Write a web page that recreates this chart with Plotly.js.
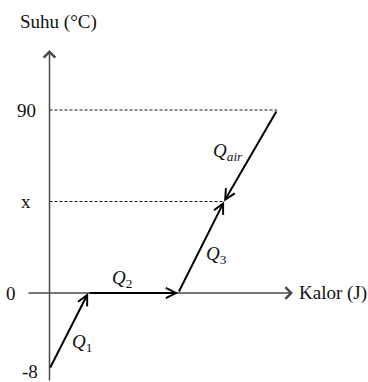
<!DOCTYPE html>
<html><head><meta charset="utf-8">
<script src="https://cdn.plot.ly/plotly-3.0.1.min.js"></script>
<style>html,body{margin:0;padding:0;background:#fff;overflow:hidden}#chart{width:368px;height:382px}</style>
</head><body><div id="chart"></div>
<script>
// ---- data (schematic values) ----
const suhuLabels = ['-8', '0', 'x', '90'];          // temperature tick labels
const suhuLevels = [-0.83, 0, 1, 2];                  // schematic level of each temperature
const kalorPoints = [0, 0.86, 2.86, 3.88, 5.06];      // cumulative heat at stage boundaries (schematic)
const stageNames = ['<i>Q</i><sub>1</sub>', '<i>Q</i><sub>2</sub>', '<i>Q</i><sub>3</sub>', '<i>Q</i><sub><i>air</i></sub>'];

// ---- layout helpers ----
const W = 368, H = 382;
const x0px = 49.5, kx = 45;      // pixel of heat 0, px per heat unit
const y0px = 293, ky = 91.5;     // pixel of level 0, px per level unit
const xRange = [(0 - x0px) / kx, (W - x0px) / kx];
const yRange = [(y0px - H) / ky, (y0px - 0) / ky];
const lvl = name => suhuLevels[suhuLabels.indexOf(name)];

const FONT = 'Liberation Serif, Times New Roman, serif';
const ink = '#111';
const axisCol = '#4a4a4a';

// stage segments: [from, to]
const segs = [
  [[kalorPoints[0], lvl('-8')], [kalorPoints[1], lvl('0')]],
  [[kalorPoints[1], lvl('0')], [kalorPoints[2], lvl('0')]],
  [[kalorPoints[2], lvl('0')], [kalorPoints[3], lvl('x')]],
  [[kalorPoints[4], lvl('90')], [kalorPoints[3], lvl('x')]]
];
const labelShift = [[13, -12], [-11, 14], [15, -8], [-23, 4]];

const traces = [
  { x: [0, kalorPoints[4]], y: [lvl('90'), lvl('90')], mode: 'lines',
    line: { color: ink, width: 1, dash: '3px,2px' }, hoverinfo: 'skip' },
  { x: [0, kalorPoints[3]], y: [lvl('x'), lvl('x')], mode: 'lines',
    line: { color: ink, width: 1, dash: '3px,2px' }, hoverinfo: 'skip' }
];

const ann = [];
// axes as arrows
ann.push({ x: 0, y: (y0px - 50) / ky, ax: 0, ay: yRange[0], xref: 'x', yref: 'y', axref: 'x', ayref: 'y',
  text: '', showarrow: true, arrowhead: 4, arrowsize: 1.5, arrowwidth: 1.5, arrowcolor: axisCol });
ann.push({ x: (293 - x0px) / kx, y: 0, ax: (27 - x0px) / kx, ay: 0, xref: 'x', yref: 'y', axref: 'x', ayref: 'y',
  text: '', showarrow: true, arrowhead: 4, arrowsize: 1.5, arrowwidth: 1.5, arrowcolor: axisCol });
// stage arrows
segs.forEach((s, i) => {
  ann.push({ x: s[1][0], y: s[1][1], ax: s[0][0], ay: s[0][1], xref: 'x', yref: 'y', axref: 'x', ayref: 'y',
    text: '', showarrow: true, arrowhead: 5, arrowsize: 1.0, arrowwidth: 2, arrowcolor: '#000' });
  ann.push({ x: (s[0][0] + s[1][0]) / 2, y: (s[0][1] + s[1][1]) / 2, xref: 'x', yref: 'y',
    xshift: labelShift[i][0], yshift: labelShift[i][1], text: stageNames[i], showarrow: false,
    font: { family: FONT, size: 19, color: ink } });
});
// tick labels
const tickRight = { '-8': 40, '0': 18, 'x': 33, '90': 38 };
const tickDy = { '-8': -3, '0': 0, 'x': 0, '90': 0 };
suhuLabels.forEach((t, i) => {
  ann.push({ x: 0, y: suhuLevels[i], xref: 'x', yref: 'y', xanchor: 'right', yanchor: 'middle',
    xshift: tickRight[t] - x0px, yshift: tickDy[t], text: t, showarrow: false,
    font: { family: FONT, size: 19, color: ink } });
});
// axis titles
ann.push({ x: 18 / W, y: 1 - 22 / H, xref: 'paper', yref: 'paper', xanchor: 'left', yanchor: 'middle',
  text: 'Suhu (°C)', showarrow: false, font: { family: FONT, size: 19, color: ink } });
ann.push({ x: 297 / W, y: 0, xref: 'paper', yref: 'y', xanchor: 'left', yanchor: 'middle',
  text: 'Kalor (J)', showarrow: false, font: { family: FONT, size: 19, color: ink } });

const layout = {
  width: W, height: H, margin: { l: 0, r: 0, t: 0, b: 0 },
  paper_bgcolor: '#fff', plot_bgcolor: '#fff', showlegend: false,
  xaxis: { range: xRange, visible: false, fixedrange: true },
  yaxis: { range: yRange, visible: false, fixedrange: true },
  annotations: ann
};
Plotly.newPlot('chart', traces, layout, { displayModeBar: false, staticPlot: true });
</script></body></html>
